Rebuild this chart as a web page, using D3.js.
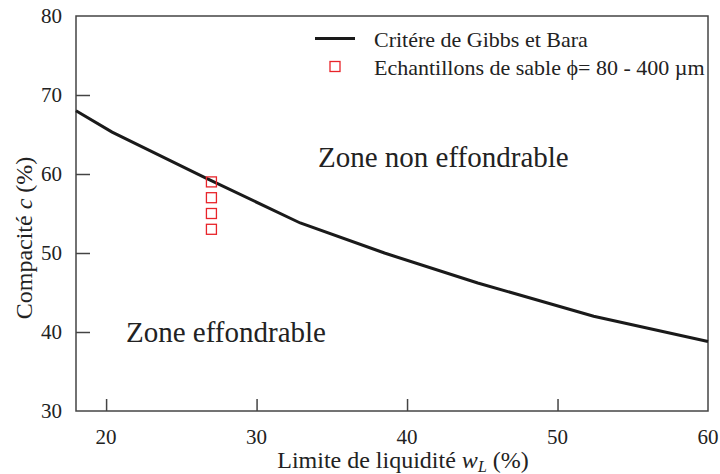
<!DOCTYPE html>
<html><head><meta charset="utf-8">
<script src="https://cdn.jsdelivr.net/npm/d3@7"></script>
<style>body{margin:0;background:#fff}svg{display:block}text{font-family:"Liberation Serif","Times New Roman",serif;fill:#222}</style>
</head><body>
<svg id="c" width="720" height="474"></svg>
<script>
// Data
const curveWL = [18, 20.4, 26.5, 32.9, 38.5, 44.7, 52.4, 60];
const curveC  = [68.0, 65.3, 59.6, 53.8, 50.0, 46.2, 42.0, 38.8];
const sampleWL = [27, 27, 27, 27];
const sampleC  = [59, 57, 55, 53];
const xTicks = [20, 30, 40, 50, 60];
const yTicks = [30, 40, 50, 60, 70, 80];

const svg = d3.select("#c");
const L = 76, R = 708, T = 16, B = 411;
const x = d3.scaleLinear().domain([18, 60]).range([L, R]);
const y = d3.scaleLinear().domain([30, 80]).range([B, T]);
const axisCol = "#444";

// frame
svg.append("rect").attr("x", L).attr("y", T).attr("width", R - L).attr("height", B - T)
  .attr("fill", "none").attr("stroke", axisCol).attr("stroke-width", 1.5);

// y axis (inner ticks)
const gy = svg.append("g").attr("transform", `translate(${L},0)`)
  .call(d3.axisRight(y).tickValues(yTicks).tickSize(14).tickFormat(""));
gy.select(".domain").remove();
gy.selectAll(".tick line").attr("stroke", axisCol).attr("stroke-width", 1.5)
  .filter(d => d === 30 || d === 80).remove();
svg.append("g").selectAll("text").data(yTicks).join("text")
  .attr("x", L - 14).attr("y", d => y(d)).attr("dy", "0.35em")
  .attr("text-anchor", "end").attr("font-size", 21).text(d => d);

// x axis (inner ticks)
const gx = svg.append("g").attr("transform", `translate(0,${B})`)
  .call(d3.axisTop(x).tickValues(xTicks).tickSize(12).tickFormat(""));
gx.select(".domain").remove();
gx.selectAll(".tick line").attr("stroke", axisCol).attr("stroke-width", 1.5)
  .filter(d => d === 60).remove();
svg.append("g").selectAll("text").data(xTicks).join("text")
  .attr("x", d => x(d)).attr("y", 444)
  .attr("text-anchor", "middle").attr("font-size", 21).text(d => d);

// axis titles
const xt = svg.append("text").attr("x", 403).attr("y", 468).attr("text-anchor", "middle").attr("font-size", 24);
xt.append("tspan").text("Limite de liquidité ");
xt.append("tspan").attr("font-style", "italic").text("w");
xt.append("tspan").attr("font-style", "italic").attr("font-size", 16).attr("dy", 4).text("L");
xt.append("tspan").attr("dy", -4).text("  (%)");

const yt = svg.append("text").attr("transform", "translate(32,238) rotate(-90)")
  .attr("text-anchor", "middle").attr("font-size", 24);
yt.append("tspan").text("Compacité ");
yt.append("tspan").attr("font-style", "italic").text("c");
yt.append("tspan").text(" (%)");

// curve
const pts = curveWL.map((w, i) => [w, curveC[i]]);
svg.append("path").datum(pts)
  .attr("d", d3.line().x(d => x(d[0])).y(d => y(d[1])))
  .attr("fill", "none").attr("stroke", "#1a1a1a").attr("stroke-width", 3);

// samples
svg.append("g").selectAll("rect").data(sampleWL.map((w, i) => [w, sampleC[i]])).join("rect")
  .attr("x", d => x(d[0]) - 5).attr("y", d => y(d[1]) - 5)
  .attr("width", 10).attr("height", 10)
  .attr("fill", "none").attr("stroke", "#e8242a").attr("stroke-width", 1.3);

// annotations
svg.append("text").attr("x", 318).attr("y", 167).attr("font-size", 29).text("Zone non effondrable");
svg.append("text").attr("x", 126).attr("y", 342).attr("font-size", 29).text("Zone effondrable");

// legend
svg.append("line").attr("x1", 315).attr("x2", 355).attr("y1", 38.5).attr("y2", 38.5)
  .attr("stroke", "#1a1a1a").attr("stroke-width", 3);
svg.append("text").attr("x", 374).attr("y", 47).attr("font-size", 22).text("Critére de Gibbs et Bara");
svg.append("rect").attr("x", 330).attr("y", 61.5).attr("width", 10).attr("height", 10)
  .attr("fill", "none").attr("stroke", "#e8242a").attr("stroke-width", 1.3);
svg.append("text").attr("x", 374).attr("y", 75).attr("font-size", 22).text("Echantillons de sable ϕ= 80 - 400 µm");
</script>
</body></html>
